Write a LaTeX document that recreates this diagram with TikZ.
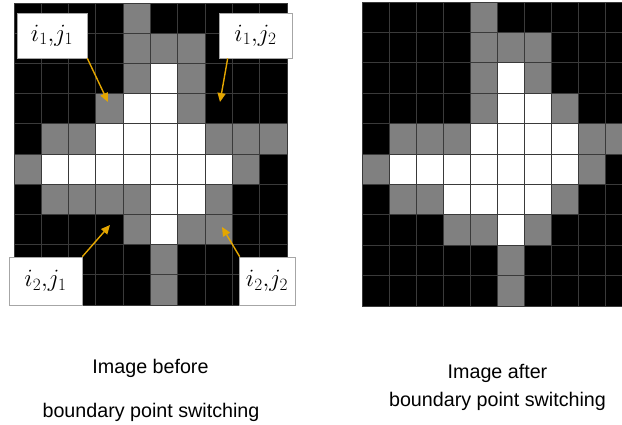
\documentclass[tikz,border=0pt]{standalone}
\usepackage{fontspec}
\setmainfont{Liberation Sans}
\usetikzlibrary{arrows.meta}
\definecolor{c0}{RGB}{0,0,0}
\definecolor{c1}{RGB}{128,128,128}
\definecolor{c2}{RGB}{255,255,255}
\definecolor{gridline}{RGB}{58,58,58}
\definecolor{arrowc}{RGB}{228,166,0}
\begin{document}
\begin{tikzpicture}[x=1pt,y=-1pt,
  cell/.style={draw=gridline, line width=0.9pt},
  lbl/.style={draw=gray!70, fill=white, line width=0.6pt, inner sep=0pt, font=\fontsize{24}{28}\selectfont},
  captxt/.style={anchor=base, inner sep=0pt, font=\fontsize{19.7}{24}\selectfont},
  arr/.style={draw=arrowc, line width=1.4pt, -{Triangle[length=9pt,width=8pt]}}]
\useasboundingbox (0,0) rectangle (622,425);
\fill[white] (0,0) rectangle (622,425);
\begin{scope}
\clip (0,0) rectangle (622,425);
% left grid
\foreach \row [count=\ri from 0] in {
 {0,0,0,0,1,0,0,0,0,0},
 {0,0,0,0,1,1,1,0,0,0},
 {0,0,0,0,1,2,1,0,0,0},
 {0,0,0,1,2,2,1,0,0,0},
 {0,1,1,2,2,2,2,1,1,1},
 {1,2,2,2,2,2,2,2,1,0},
 {0,1,1,1,1,2,2,1,0,0},
 {0,0,0,0,1,2,1,1,0,0},
 {0,0,0,0,0,1,0,0,0,0},
 {0,0,0,0,0,1,0,0,0,0}}{
  \foreach \v [count=\ci from 0] in \row {
    \filldraw[cell, fill=c\v] ({14+27.3*\ci},{3+30.2*\ri}) rectangle ++(27.3,30.2);
  }
}
% right grid
\foreach \row [count=\ri from 0] in {
 {0,0,0,0,1,0,0,0,0,0},
 {0,0,0,0,1,1,1,0,0,0},
 {0,0,0,0,1,2,1,0,0,0},
 {0,0,0,0,1,2,2,1,0,0},
 {0,1,1,1,2,2,2,2,1,1},
 {1,2,2,2,2,2,2,2,1,0},
 {0,1,1,2,2,2,2,1,0,0},
 {0,0,0,1,1,2,1,0,0,0},
 {0,0,0,0,0,1,0,0,0,0},
 {0,0,0,0,0,1,0,0,0,0}}{
  \foreach \v [count=\ci from 0] in \row {
    \filldraw[cell, fill=c\v] ({362+27*\ci},{2+30.4*\ri}) rectangle ++(27,30.4);
  }
}
\end{scope}
% label boxes
\node[lbl, minimum width=70pt, minimum height=45pt] (b11) at (52,35.5) {$i_1{,}j_1$};
\node[lbl, minimum width=73pt, minimum height=45pt] (b12) at (255.5,35.5) {$i_1{,}j_2$};
\node[lbl, minimum width=73pt, minimum height=48pt] (b21) at (45.5,281) {$i_2{,}j_1$};
\node[lbl, minimum width=56pt, minimum height=48pt] (b22) at (267,281) {$i_2{,}j_2$};
% arrow tips
\coordinate (t11) at (108,102);
\coordinate (t12) at (220,102);
\coordinate (t21) at (110,225);
\coordinate (t22) at (222,227);
\draw[arr] (b11.south east) -- (t11);
\draw[arr] ([xshift=9pt]b12.south west) -- (t12);
\draw[arr] (b21.north east) -- (t21);
\draw[arr] ([xshift=1pt]b22.north west) -- (t22);
% captions
\node[captxt] (c1a) at (150.5,373) {Image before};
\node[captxt] (c1b) at (151,417) {boundary point switching};
\node[captxt] (c2a) at (497.5,378) {Image after};
\node[captxt] (c2b) at (497.5,406) {boundary point switching};
\end{tikzpicture}
\end{document}
